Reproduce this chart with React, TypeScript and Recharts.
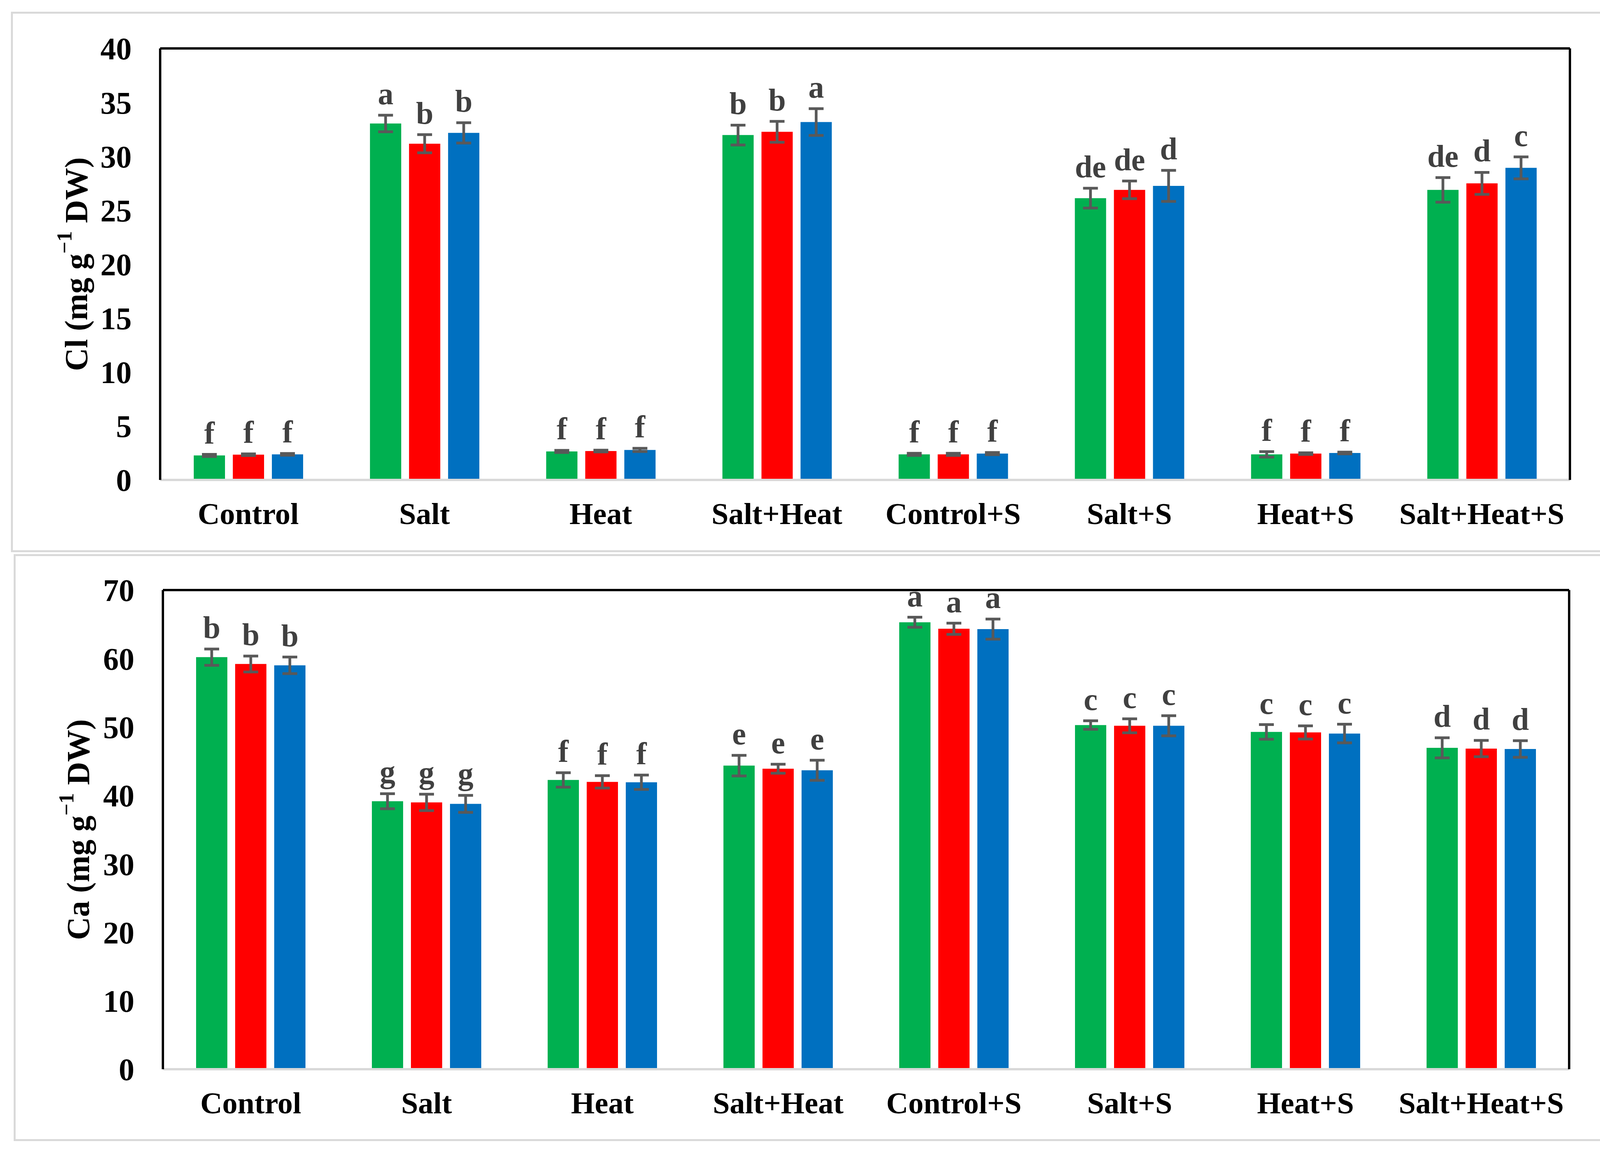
import React from "react";
import {
  Bar,
  BarChart,
  ErrorBar,
  LabelList,
  XAxis,
  YAxis,
} from "recharts";

const FONT = '"Liberation Serif", "Times New Roman", Times, serif';
const GREEN = "#00B050";
const RED = "#FF0000";
const BLUE = "#0070C0";
const ERR = "#595959";
const LETTER = "#404040";

const categories = [
  "Control",
  "Salt",
  "Heat",
  "Salt+Heat",
  "Control+S",
  "Salt+S",
  "Heat+S",
  "Salt+Heat+S",
];

// Cl (mg g-1 DW)
const clGreen = [2.27, 33.04, 2.64, 31.97, 2.37, 26.12, 2.37, 26.89];
const clRed = [2.34, 31.17, 2.68, 32.27, 2.37, 26.89, 2.44, 27.49];
const clBlue = [2.37, 32.17, 2.78, 33.18, 2.44, 27.26, 2.5, 28.93];
const clGreenErr = [0.1, 0.77, 0.1, 0.92, 0.1, 0.92, 0.25, 1.14];
const clRedErr = [0.08, 0.84, 0.08, 0.97, 0.1, 0.82, 0.08, 1.02];
const clBlueErr = [0.08, 0.94, 0.15, 1.24, 0.1, 1.44, 0.08, 1.02];
const clGreenLet = ["f", "a", "f", "b", "f", "de", "f", "de"];
const clRedLet = ["f", "b", "f", "b", "f", "de", "f", "d"];
const clBlueLet = ["f", "b", "f", "a", "f", "d", "f", "c"];
const clTicks = [0, 5, 10, 15, 20, 25, 30, 35, 40];

// Ca (mg g-1 DW)
const caGreen = [60.2, 39.15, 42.26, 44.35, 65.3, 50.28, 49.27, 46.95];
const caRed = [59.2, 38.98, 41.98, 43.9, 64.35, 50.17, 49.2, 46.84];
const caBlue = [59.0, 38.76, 41.92, 43.67, 64.3, 50.17, 49.04, 46.78];
const caGreenErr = [1.19, 1.1, 1.05, 1.5, 0.73, 0.62, 1.07, 1.47];
const caRedErr = [1.16, 1.2, 0.9, 0.65, 0.82, 1.02, 0.96, 1.19];
const caBlueErr = [1.21, 1.24, 1.05, 1.47, 1.47, 1.47, 1.36, 1.21];
const caGreenLet = ["b", "g", "f", "e", "a", "c", "c", "d"];
const caRedLet = ["b", "g", "f", "e", "a", "c", "c", "d"];
const caBlueLet = ["b", "g", "f", "e", "a", "c", "c", "d"];
const caTicks = [0, 10, 20, 30, 40, 50, 60, 70];

type Series = {
  values: number[];
  errs: number[];
  letters: string[];
  color: string;
};

function buildRows(series: Series[]) {
  return categories.map((name, i) => {
    const row: Record<string, string | number> = { name };
    series.forEach((s, k) => {
      row[`v${k}`] = s.values[i];
      row[`e${k}`] = s.errs[i];
      row[`l${k}`] = s.letters[i];
    });
    return row;
  });
}

const letterContent = (s: Series) => (props: any) => {
  const vb = props.viewBox || {};
  const x = props.x ?? vb.x;
  const y = props.y ?? vb.y;
  const width = props.width ?? vb.width;
  const height = props.height ?? vb.height;
  const i = props.index;
  if (i == null || x == null) return null;
  const val = s.values[i];
  const ppu = val ? Math.abs(height) / val : 0;
  const top = Math.min(y, y + height) - s.errs[i] * ppu - 28;
  return (
    <text
      x={x + width / 2}
      y={top}
      textAnchor="middle"
      fill={LETTER}
      fontFamily={FONT}
      fontWeight={700}
      fontSize={80}
    >
      {s.letters[i]}
    </text>
  );
};

type PanelProps = {
  series: Series[];
  ticks: number[];
  max: number;
  element: string;
  height: number;
  margin: { top: number; right: number; bottom: number; left: number };
  labelX: number;
};

function Panel({ series, ticks, max, element, height, margin, labelX }: PanelProps) {
  const rows = buildRows(series);
  const plotTop = margin.top + 1;
  const plotBottom = height - margin.bottom - 120;
  const labelY = (plotTop + plotBottom) / 2;

  const yLabel = () => (
    <text
      x={labelX}
      y={labelY}
      transform={`rotate(-90 ${labelX} ${labelY})`}
      textAnchor="middle"
      dominantBaseline="central"
      fontFamily={FONT}
      fontWeight={700}
      fontSize={82}
      fill="#000"
    >
      <tspan>{element} (mg g</tspan>
      <tspan fontSize={54} dy={-30}>
        {"\u22121"}
      </tspan>
      <tspan dy={30}> DW)</tspan>
    </text>
  );

  return (
    <BarChart
      width={4150}
      height={height}
      data={rows}
      margin={margin}
      barSize={80}
      barGap={20}
    >
      <XAxis
        dataKey="name"
        height={120}
        tickLine={false}
        tickSize={6}
        tickMargin={52}
        interval={0}
        axisLine={{ stroke: "#D9D9D9", strokeWidth: 6 }}
        tick={{ fill: "#000", fontSize: 78, fontWeight: 700, fontFamily: FONT }}
      />
      <XAxis
        xAxisId="top"
        dataKey="name"
        orientation="top"
        height={1}
        tick={false}
        tickLine={false}
        axisLine={{ stroke: "#000", strokeWidth: 6 }}
      />
      <YAxis
        width={300}
        domain={[0, max]}
        ticks={ticks}
        interval={0}
        tickLine={false}
        tickSize={6}
        tickMargin={67}
        axisLine={{ stroke: "#000", strokeWidth: 6 }}
        tick={{ fill: "#000", fontSize: 80, fontWeight: 700, fontFamily: FONT }}
        label={{ content: yLabel }}
      />
      <YAxis
        yAxisId="r"
        orientation="right"
        width={1}
        domain={[0, max]}
        tick={false}
        tickLine={false}
        axisLine={{ stroke: "#000", strokeWidth: 6 }}
      />
      {series.map((s, k) => (
        <Bar key={k} dataKey={`v${k}`} fill={s.color} isAnimationActive={false}>
          <ErrorBar
            dataKey={`e${k}`}
            width={19}
            stroke={ERR}
            strokeWidth={7}
            isAnimationActive={false}
          />
          <LabelList dataKey={`l${k}`} content={letterContent(s)} />
        </Bar>
      ))}
    </BarChart>
  );
}

const clSeries: Series[] = [
  { values: clGreen, errs: clGreenErr, letters: clGreenLet, color: GREEN },
  { values: clRed, errs: clRedErr, letters: clRedLet, color: RED },
  { values: clBlue, errs: clBlueErr, letters: clBlueLet, color: BLUE },
];

const caSeries: Series[] = [
  { values: caGreen, errs: caGreenErr, letters: caGreenLet, color: GREEN },
  { values: caRed, errs: caRedErr, letters: caRedLet, color: RED },
  { values: caBlue, errs: caBlueErr, letters: caBlueLet, color: BLUE },
];

const frame = (left: number, top: number, width: number, height: number): React.CSSProperties => ({
  position: "absolute",
  left,
  top,
  width,
  height,
  border: "5px solid #D9D9D9",
  boxSizing: "border-box",
});

export default function App() {
  return (
    <div
      style={{
        position: "absolute",
        left: 0,
        top: 0,
        width: 4150,
        height: 2950,
        background: "#fff",
        overflow: "hidden",
      }}
    >
      <div style={frame(28, 30, 4085, 1384)} />
      <div style={frame(35, 1419, 4075, 1503)} />
      <div style={{ position: "absolute", left: 0, top: 0 }}>
        <Panel
          series={clSeries}
          ticks={clTicks}
          max={40}
          element="Cl"
          height={1420}
          margin={{ top: 123, right: 130, bottom: 71, left: 110 }}
          labelX={195}
        />
      </div>
      <div style={{ position: "absolute", left: 0, top: 1400 }}>
        <Panel
          series={caSeries}
          ticks={caTicks}
          max={70}
          element="Ca"
          height={1500}
          margin={{ top: 110, right: 132, bottom: 42, left: 117 }}
          labelX={200}
        />
      </div>
    </div>
  );
}
